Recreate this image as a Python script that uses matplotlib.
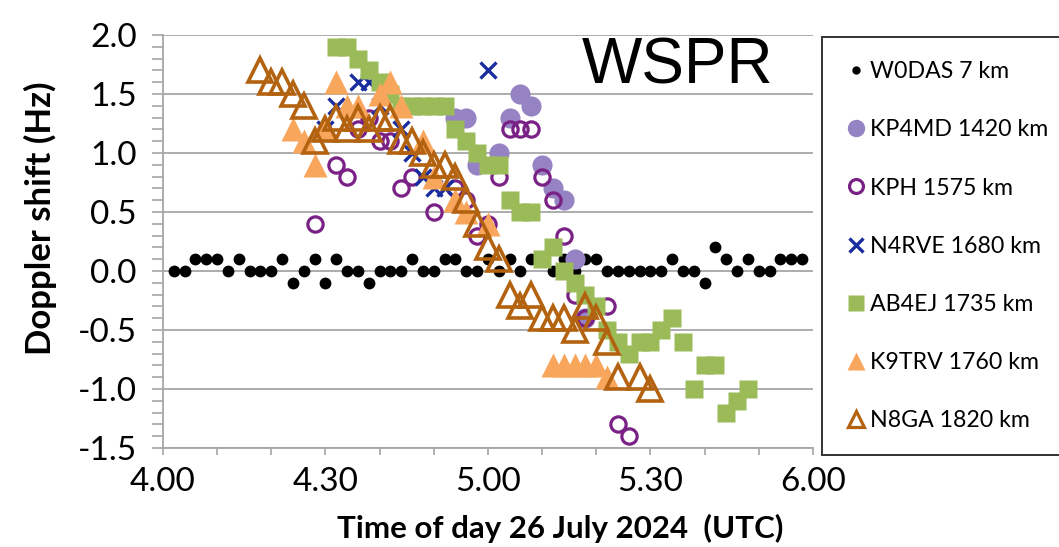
import matplotlib
matplotlib.use("Agg")
import matplotlib.pyplot as plt
from matplotlib.lines import Line2D
from matplotlib.ticker import FixedLocator, MultipleLocator, FuncFormatter

plt.rcParams["font.family"] = ["Lato", "DejaVu Sans"]
plt.rcParams["axes.unicode_minus"] = False

# minutes after 04:00 UTC (WSPR slots every 2 min) and Doppler shift in Hz
w0das_t = list(range(2, 120, 2))
w0das_f = [0, 0, .1, .1, .1, 0, .1, 0, 0, 0, .1, -.1, 0, .1, -.1, .1, 0, 0, -.1, 0,
           0, 0, .1, 0, 0, .1, .1, 0, 0, .1, 0, .1, 0, .1, .1, 0, .1, 0, .1, .1,
           0, 0, 0, 0, 0, 0, .1, 0, 0, -.1, .2, .1, 0, .1, 0, 0, .1, .1, .1]

kp4md_t = [54, 56, 58, 62, 64, 66, 68, 70, 72, 74, 76, 78]
kp4md_f = [1.3, 1.3, 0.9, 1.0, 1.3, 1.5, 1.4, 0.9, 0.7, 0.6, 0.1, -0.4]

kph_t = [28, 32, 34, 36, 38, 40, 42, 44, 46, 50, 54, 56, 58, 60, 62, 64, 66, 68,
         70, 72, 74, 76, 78, 82, 84, 86]
kph_f = [0.4, 0.9, 0.8, 1.2, 1.3, 1.1, 1.1, 0.7, 0.8, 0.5, 0.7, 0.6, 0.3, 0.4, 0.8,
         1.2, 1.2, 1.2, 0.8, 0.6, 0.3, -0.2, -0.4, -0.3, -1.3, -1.4]

n4rve_t = [30, 32, 36, 38, 40, 44, 46, 48, 50, 52, 60]
n4rve_f = [1.2, 1.4, 1.6, 1.6, 1.4, 1.2, 1.0, 0.8, 0.7, 0.7, 1.7]

ab4ej_t = [32, 34, 36, 38, 40, 42, 44, 46, 48, 50, 52, 54, 56, 58, 60, 62, 64, 66,
           68, 70, 72, 74, 76, 78, 80, 82, 84, 86, 88, 90, 92, 94, 96, 98, 100,
           102, 104, 106, 108]
ab4ej_f = [1.9, 1.9, 1.8, 1.7, 1.6, 1.5, 1.4, 1.4, 1.4, 1.4, 1.4, 1.2, 1.1, 1.0,
           0.9, 0.9, 0.6, 0.5, 0.5, 0.1, 0.2, 0.0, -0.1, -0.2, -0.3, -0.5, -0.6,
           -0.7, -0.6, -0.6, -0.5, -0.4, -0.6, -1.0, -0.8, -0.8, -1.2, -1.1, -1.0]

k9trv_t = [24, 26, 28, 30, 32, 34, 36, 40, 42, 44, 48, 50, 54, 56, 60, 72, 74, 76,
           78, 80, 82]
k9trv_f = [1.2, 1.1, 0.9, 1.2, 1.6, 1.4, 1.4, 1.5, 1.6, 1.4, 1.1, 0.8, 0.6, 0.5,
           0.4, -0.8, -0.8, -0.8, -0.8, -0.8, -0.9]

n8ga_t = [18, 20, 22, 24, 26, 28, 30, 32, 34, 36, 38, 40, 42, 44, 46, 48, 50, 52,
          54, 56, 58, 60, 62, 64, 66, 68, 70, 72, 74, 76, 78, 80, 82, 84, 88, 90]
n8ga_f = [1.7, 1.6, 1.6, 1.5, 1.4, 1.1, 1.2, 1.3, 1.2, 1.3, 1.2, 1.3, 1.3, 1.1,
          1.1, 1.0, 0.9, 0.9, 0.8, 0.6, 0.4, 0.2, 0.1, -0.2, -0.3, -0.2, -0.4,
          -0.4, -0.4, -0.5, -0.3, -0.4, -0.6, -0.9, -0.9, -1.0]

labels = ["W0DAS 7 km", "KP4MD 1420 km", "KPH 1575 km", "N4RVE 1680 km",
          "AB4EJ 1735 km", "K9TRV 1760 km", "N8GA 1820 km"]

fig = plt.figure(figsize=(10.59, 5.47), dpi=100)
ax = fig.add_axes([0.1539, 0.181, 0.6138, 0.755])

grey = "#A6A6A6"
purple = "#9683C4"
kph_col = "#7A2185"
blue = "#1A2D9E"
green = "#9BBB59"
orange = "#F9A65D"
brown = "#B3620F"

ax.plot(w0das_t, w0das_f, "o", ms=8.5, color="black", mec="none", zorder=3)
ax.plot(kp4md_t, kp4md_f, "o", ms=14.5, color=purple, mec="none", zorder=3)
ax.plot(kph_t, kph_f, "o", ms=11, mfc="none", mec=kph_col, mew=2.3, zorder=3)
ax.plot(n4rve_t, n4rve_f, "x", ms=11, color=blue, mew=2.4, zorder=3)
ax.plot(ab4ej_t, ab4ej_f, "s", ms=13.5, color=green, mec="none", zorder=3)
ax.plot(k9trv_t, k9trv_f, "^", ms=17, color=orange, mec="none", zorder=3)
ax.plot(n8ga_t, n8ga_f, "^", ms=17, mfc="none", mec=brown, mew=2.6, zorder=3)

ax.set_xlim(0, 120)
ax.set_ylim(-1.5, 2.0)
ax.xaxis.set_major_locator(FixedLocator(list(range(0, 121, 10))))
ax.xaxis.set_major_formatter(FuncFormatter(
    lambda m, p: f"{4 + int(m) // 60}.{int(m) % 60:02d}" if int(m) % 30 == 0 else ""))
ax.yaxis.set_major_locator(MultipleLocator(0.5))
ax.yaxis.set_minor_locator(MultipleLocator(0.1))
ax.yaxis.set_major_formatter(FuncFormatter(lambda v, p: f"{v:.1f}"))

ax.grid(axis="y", which="major", color=grey, lw=1.3, zorder=0)
for s in ["top", "right"]:
    ax.spines[s].set_visible(False)
for s in ["left", "bottom"]:
    ax.spines[s].set_color(grey)
    ax.spines[s].set_linewidth(1.3)
ax.tick_params(axis="y", which="both", direction="out", length=8, width=1.2,
               color=grey, labelsize=24, pad=11)
ax.tick_params(axis="x", direction="out", length=5, width=1.2, color=grey,
               labelsize=24, pad=9)

fig.text(40 / 1059, 1 - 218 / 547, "Doppler shift (Hz)", rotation=90,
         ha="center", va="center", fontsize=25, fontweight="bold")
fig.text(560 / 1059, 1 - 528 / 547, "Time of day 26 July 2024  (UTC)",
         ha="center", va="center", fontsize=22.5, fontweight="bold")
fig.text(678 / 1059, 1 - 67 / 547, "WSPR", ha="center", va="center",
         fontsize=46, family="Liberation Sans")

handles = [
    Line2D([], [], ls="none", marker="o", ms=6, color="black", mec="none"),
    Line2D([], [], ls="none", marker="o", ms=12.5, color=purple, mec="none"),
    Line2D([], [], ls="none", marker="o", ms=10, mfc="none", mec=kph_col, mew=2.3),
    Line2D([], [], ls="none", marker="x", ms=10, color=blue, mew=2.4),
    Line2D([], [], ls="none", marker="s", ms=11.5, color=green, mec="none"),
    Line2D([], [], ls="none", marker="^", ms=13, color=orange, mec="none"),
    Line2D([], [], ls="none", marker="^", ms=12, mfc="none", mec=brown, mew=2.3),
]
leg = fig.legend(handles, labels, loc="upper left",
                 bbox_to_anchor=(822 / 1059, 1 - 37 / 547, 0.3, 0.0),
                 mode="expand", fontsize=16.7, frameon=True, fancybox=False,
                 edgecolor="black", labelspacing=1.6, handlelength=0.8,
                 handletextpad=0.2, borderpad=1.05, borderaxespad=0)
leg.get_frame().set_linewidth(1.4)

fig.savefig("out.png", dpi=100)
